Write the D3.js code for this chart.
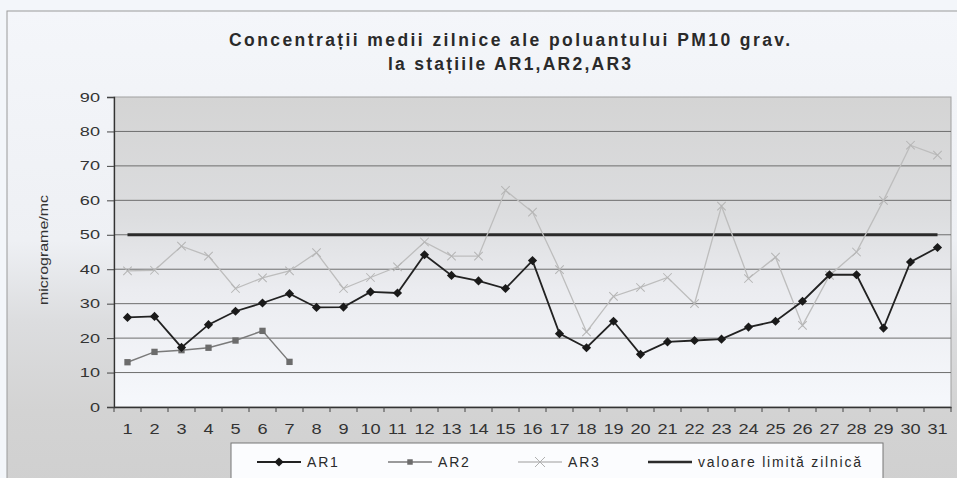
<!DOCTYPE html>
<html>
<head>
<meta charset="utf-8">
<script src="https://cdn.jsdelivr.net/npm/d3@7"></script>
<style>
  body { margin: 0; background: #f3f6fa; }
  svg { display: block; font-family: "Liberation Sans", Arial, sans-serif; }
</style>
</head>
<body>
<svg id="chart" width="957" height="478"></svg>
<script>
// data
const days = [1, 2, 3, 4, 5, 6, 7, 8, 9, 10, 11, 12, 13, 14, 15, 16, 17, 18, 19, 20, 21, 22, 23, 24, 25, 26, 27, 28, 29, 30, 31];
const ar1 = [26, 26.3, 17.3, 23.9, 27.8, 30.2, 32.9, 28.9, 29, 33.4, 33.1, 44.2, 38.2, 36.6, 34.4, 42.5, 21.3, 17.2, 24.9, 15.3, 18.9, 19.3, 19.7, 23.2, 24.9, 30.7, 38.4, 38.4, 22.9, 42.1, 46.3];
const ar2 = [13.0, 16.0, 16.5, 17.2, 19.3, 22.1, 13.1];
const ar3 = [39.5, 39.7, 46.7, 43.8, 34.4, 37.5, 39.5, 44.8, 34.4, 37.6, 40.7, 47.9, 43.8, 43.8, 62.9, 56.6, 39.9, 21.8, 32.1, 34.7, 37.6, 30.0, 58.3, 37.3, 43.5, 23.7, 38.2, 45.0, 60.0, 76.0, 73.1];
const limit = 50;
const yTicks = [0, 10, 20, 30, 40, 50, 60, 70, 80, 90];
const seriesNames = ["AR1", "AR2", "AR3", "valoare limită zilnică"];
const title1 = "Concentrații medii zilnice ale poluantului PM10 grav.";
const title2 = "la stațiile AR1,AR2,AR3";
const yLabel = "micrograme/mc";

const svg = d3.select("#chart");
const pLeft = 114, pRight = 951, pTop = 97, pBottom = 407;

const x = d3.scaleBand().domain(days).range([pLeft, pRight]).padding(0);
const y = d3.scaleLinear().domain([0, 90]).range([pBottom, pTop]);
const cx = d => x(d) + x.bandwidth() / 2;
const diamond = "M0,-4.6L4.6,0L0,4.6L-4.6,0Z";

const defs = svg.append("defs");
const bg = defs.append("linearGradient").attr("id", "bg").attr("x1", 0).attr("y1", 0).attr("x2", 0).attr("y2", 1);
bg.append("stop").attr("offset", "0%").attr("stop-color", "#f4f6fa");
bg.append("stop").attr("offset", "46%").attr("stop-color", "#eef0f4");
bg.append("stop").attr("offset", "62%").attr("stop-color", "#dcdddf");
bg.append("stop").attr("offset", "80%").attr("stop-color", "#d3d3d3");
bg.append("stop").attr("offset", "100%").attr("stop-color", "#cfcfcf");
const pg = defs.append("linearGradient").attr("id", "pg").attr("x1", 0).attr("y1", 0).attr("x2", 0).attr("y2", 1);
pg.append("stop").attr("offset", "0%").attr("stop-color", "#d4d4d4");
pg.append("stop").attr("offset", "38%").attr("stop-color", "#dcdddf");
pg.append("stop").attr("offset", "62%").attr("stop-color", "#ebecf0");
pg.append("stop").attr("offset", "100%").attr("stop-color", "#f6f8fc");

// chart area
svg.append("rect").attr("x", 7).attr("y", 11).attr("width", 980).attr("height", 500)
  .attr("fill", "url(#bg)").attr("stroke", "#9a9a9a");

// plot area
svg.append("rect").attr("x", pLeft).attr("y", pTop).attr("width", pRight - pLeft).attr("height", pBottom - pTop)
  .attr("fill", "url(#pg)").attr("stroke", "#a0a0a0");

// gridlines
svg.append("g").selectAll("line").data(yTicks.filter(t => t > 0 && t < 90)).join("line")
  .attr("x1", pLeft).attr("x2", pRight).attr("y1", d => y(d)).attr("y2", d => y(d))
  .attr("stroke", "#6e6e6e").attr("stroke-width", 1);

// y axis
const yAxis = svg.append("g").attr("transform", `translate(${pLeft},0)`)
  .call(d3.axisLeft(y).tickValues(yTicks).tickSize(7).tickPadding(14));
yAxis.select(".domain").attr("stroke", "#333").attr("stroke-width", 1.3);
yAxis.selectAll(".tick line").attr("stroke", "#444");
yAxis.selectAll("text").attr("font-size", 12.5).attr("fill", "#333")
  .attr("font-family", "Liberation Sans, Arial, sans-serif")
  .attr("transform", "scale(1.45,1)").attr("x", -14 / 1.45);

// x axis
const xAxis = svg.append("g").attr("transform", `translate(0,${pBottom})`)
  .call(d3.axisBottom(x).tickSize(0).tickPadding(17));
xAxis.select(".domain").attr("stroke", "#333").attr("stroke-width", 1.3);
xAxis.selectAll("text").attr("font-size", 14).attr("fill", "#333")
  .attr("font-family", "Liberation Sans, Arial, sans-serif")
  .attr("transform", "scale(1.3,1)");
svg.append("g").selectAll("line").data(days.concat([null])).join("line")
  .attr("x1", (d, i) => pLeft + i * x.bandwidth()).attr("x2", (d, i) => pLeft + i * x.bandwidth())
  .attr("y1", pBottom).attr("y2", pBottom + 5).attr("stroke", "#444");

// limit line
svg.append("line").attr("x1", cx(days[0])).attr("x2", cx(days[days.length - 1]))
  .attr("y1", y(limit)).attr("y2", y(limit)).attr("stroke", "#2b2b2b").attr("stroke-width", 3);

const line = d3.line().x((d, i) => cx(days[i])).y(d => y(d));

// AR3
svg.append("path").datum(ar3).attr("d", line).attr("fill", "none").attr("stroke", "#bdbdbd").attr("stroke-width", 1.3);
svg.append("g").selectAll("path").data(ar3).join("path")
  .attr("transform", (d, i) => `translate(${cx(days[i])},${y(d)}) rotate(45)`)
  .attr("d", "M-6,0H6M0,-6V6")
  .attr("fill", "none").attr("stroke", "#b5b5b5").attr("stroke-width", 1);

// AR2
svg.append("path").datum(ar2).attr("d", line).attr("fill", "none").attr("stroke", "#7a7a7a").attr("stroke-width", 1.5);
svg.append("g").selectAll("path").data(ar2).join("path")
  .attr("transform", (d, i) => `translate(${cx(days[i])},${y(d)})`)
  .attr("d", d3.symbol(d3.symbolSquare, 40)).attr("fill", "#6c6c6c");

// AR1
svg.append("path").datum(ar1).attr("d", line).attr("fill", "none").attr("stroke", "#222").attr("stroke-width", 1.8);
svg.append("g").selectAll("path").data(ar1).join("path")
  .attr("transform", (d, i) => `translate(${cx(days[i])},${y(d)})`)
  .attr("d", diamond).attr("fill", "#1a1a1a");

// title
svg.append("text").attr("x", 229).attr("y", 46).attr("font-size", 17.5).attr("font-weight", "bold")
  .attr("fill", "#2a2a2a").attr("letter-spacing", 1).attr("textLength", 562).attr("lengthAdjust", "spacing").text(title1);
svg.append("text").attr("x", 388).attr("y", 70).attr("font-size", 17.5).attr("font-weight", "bold")
  .attr("fill", "#2a2a2a").attr("letter-spacing", 1).attr("textLength", 244).attr("lengthAdjust", "spacing").text(title2);

// y label
svg.append("text").attr("transform", "translate(48,305) rotate(-90)").attr("font-size", 13)
  .attr("fill", "#333").attr("textLength", 110).attr("lengthAdjust", "spacingAndGlyphs").text(yLabel);

// legend
const lg = svg.append("g");
lg.append("rect").attr("x", 231).attr("y", 443).attr("width", 652).attr("height", 60)
  .attr("fill", "#fbfcfe").attr("stroke", "#777");
const items = [
  { x: 257, color: "#222", w: 1.8, sym: "diamond" },
  { x: 388, color: "#7a7a7a", w: 1.5, sym: "square" },
  { x: 518, color: "#bdbdbd", w: 1.3, sym: "x" },
  { x: 648, color: "#2b2b2b", w: 2.5, sym: null }
];
const ly = 462;
items.forEach((it, i) => {
  lg.append("line").attr("x1", it.x).attr("x2", it.x + 44).attr("y1", ly).attr("y2", ly)
    .attr("stroke", it.color).attr("stroke-width", it.w);
  const m = lg.append("path").attr("transform", `translate(${it.x + 22},${ly})`);
  if (it.sym === "diamond") m.attr("d", diamond).attr("fill", "#1a1a1a");
  if (it.sym === "square") m.attr("d", d3.symbol(d3.symbolSquare, 30)).attr("fill", "#6c6c6c");
  if (it.sym === "x") m.attr("d", "M-5,-5L5,5M-5,5L5,-5").attr("fill", "none").attr("stroke", "#b0b0b0");
  lg.append("text").attr("x", it.x + 50).attr("y", ly + 5).attr("font-size", 14)
    .attr("letter-spacing", 1.8).attr("fill", "#2a2a2a").text(seriesNames[i]);
});
</script>
</body>
</html>
